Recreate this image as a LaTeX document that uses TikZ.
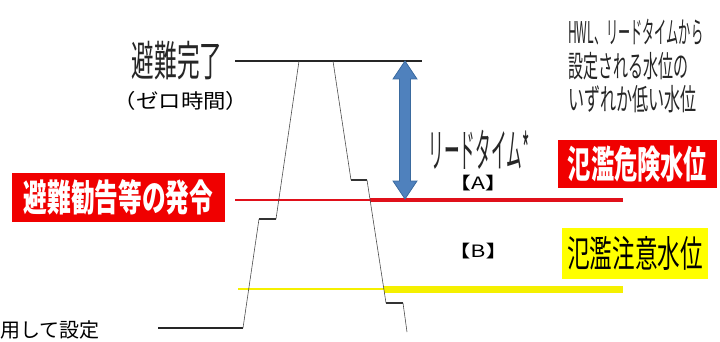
\documentclass[tikz,border=0pt]{standalone}
\usepackage{fontspec}
\usepackage{graphicx}
\newfontfamily\jp{Noto Sans CJK JP}
\definecolor{boxred}{HTML}{F00000}
\definecolor{linered}{HTML}{E0101A}
\definecolor{boxyel}{HTML}{FFFF00}
\definecolor{lineyel}{HTML}{F5F000}
\definecolor{arrowblue}{HTML}{4F81BD}
\definecolor{arrowedge}{HTML}{3A6A9E}
\tikzset{
  txt/.style={inner sep=0pt, outer sep=0pt, font=\jp},
  redbox/.style={fill=boxred, inner sep=0pt},
  yelbox/.style={fill=boxyel, inner sep=0pt},
  levelline/.style={line width=1.8pt, black!85},
  limb/.style={line width=0.6pt, black!70},
  stepline/.style={line width=1.6pt, black!80},
}
\begin{document}
\begin{tikzpicture}[x=1pt,y=-1pt]
\useasboundingbox (0,0) rectangle (720,342);
\clip (0,0) rectangle (720,342);
% coordinates of the hydrograph
\coordinate (tl) at (235,61);
\coordinate (tr) at (422,61);
\coordinate (p1) at (299,61);
\coordinate (p2) at (276,219);
\coordinate (p3) at (259,219);
\coordinate (p4) at (243,328);
\coordinate (bl) at (158,328);
\coordinate (q1) at (333,61);
\coordinate (q2) at (351,180);
\coordinate (q3) at (367,180);
\coordinate (q4) at (386,303);
\coordinate (q5) at (403,303);
\coordinate (q6) at (407,332);
% water level lines
\coordinate (rA) at (235,200);
\coordinate (rB) at (370,200);
\coordinate (rC) at (623,200);
\coordinate (yA) at (238,289);
\coordinate (yB) at (384,289);
\coordinate (yC) at (623,289);
\draw[linered, line width=1.2pt] (rA) -- (rB);
\draw[linered, line width=4.5pt] (rB) -- (rC);
\draw[lineyel, line width=1.6pt] (yA) -- (yB);
\draw[lineyel, line width=7pt] (yB) -- (yC);
% top line
\draw[levelline] (tl) -- (tr);
\draw[levelline] (bl) -- (p4);
% rising limb
\draw[limb] (p1) -- (p2);
\draw[stepline] (p2) -- (p3);
\draw[limb] (p3) -- (p4);
% falling limb
\draw[limb] (q1) -- (q2);
\draw[stepline] (q2) -- (q3);
\draw[limb] (q3) -- (q4);
\draw[stepline] (q4) -- (q5);
\draw[limb] (q5) -- (q6);
% blue double arrow
\coordinate (at) at (405,61);
\coordinate (ab) at (405,199);
\fill[arrowblue, draw=arrowedge, line width=0.8pt]
  (at) -- ++(12,18) -- ++(-6.5,0) -- ++(0,102) -- ++(6.5,0) -- (ab)
  -- ++(-12,-18) -- ++(6.5,0) -- ++(0,-102) -- ++(-6.5,0) -- cycle;
% texts
\node[txt, text=black!85] (done) at (177,61) {\fontsize{42}{42}\selectfont\scalebox{0.54}[1]{避難完了}};
\node[txt] (zero) at (181,101) {\fontsize{20}{20}\selectfont\scalebox{1.12}[1]{（ゼロ時間）}};
\node[redbox, minimum width=213pt, minimum height=49pt] (kankoku) at (118.5,197.5) {};
\node[txt, text=white] at (kankoku) {\fontsize{37}{37}\selectfont\bfseries\scalebox{0.64}[1]{避難勧告等の発令}};
\node[txt, text=black!85] (lead) at (479,150) {\fontsize{46}{46}\selectfont\scalebox{0.34}[1]{リードタイム*}};
\node[txt] (A) at (478,183) {\fontsize{17}{17}\selectfont\scalebox{1.35}[1]{【A】}};
\node[txt] (B) at (478,251) {\fontsize{17}{17}\selectfont\scalebox{1.35}[1]{【B】}};
\node[redbox, minimum width=159pt, minimum height=48pt] (kiken) at (637.5,164) {};
\node[txt, text=white] at (kiken) {\fontsize{38}{38}\selectfont\bfseries\scalebox{0.61}[1]{氾濫危険水位}};
\node[yelbox, minimum width=146pt, minimum height=51pt] (chui) at (635,253.5) {};
\node[txt, text=black] at (chui) {\fontsize{37}{37}\selectfont\scalebox{0.61}[1]{氾濫注意水位}};
\node[txt, anchor=west, text=black!85] (hwl1) at (568,32) {\fontsize{30}{30}\selectfont\scalebox{0.405}[1]{HWL、リードタイムから}};
\node[txt, anchor=west, text=black!85] (hwl2) at (568,66) {\fontsize{30}{30}\selectfont\scalebox{0.50}[1]{設定される水位の}};
\node[txt, anchor=west, text=black!85] (hwl3) at (568,99) {\fontsize{30}{30}\selectfont\scalebox{0.535}[1]{いずれか低い水位}};
\node[txt, anchor=west] (use) at (0,330) {\fontsize{20}{20}\selectfont 用して設定};
\end{tikzpicture}
\end{document}
